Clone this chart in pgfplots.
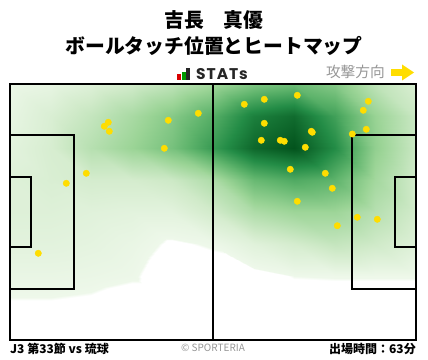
\documentclass[border=0pt]{standalone}
\usepackage{pgfplots}
\pgfplotsset{compat=1.18}
\usepackage{fontspec}
\setmainfont{Noto Sans CJK JP}
\newfontfamily\logofont[LetterSpace=6]{Poppins}
\definecolor{dot}{RGB}{255,221,0}
\definecolor{txtgray}{RGB}{150,150,150}
\begin{document}
\begin{tikzpicture}
\begin{axis}[
  x=1pt, y=1pt, hide axis, clip=false,
  xmin=0, xmax=406, ymin=0, ymax=256,
  point meta min=0, point meta max=1,
  colormap={pitchgreen}{
    rgb255(0cm)=(255,255,255);
    rgb255(0.27cm)=(255,255,255);
    rgb255(0.3cm)=(238,248,234);
    rgb255(1.5cm)=(210,235,203);
    rgb255(3.5cm)=(155,212,150);
    rgb255(5.5cm)=(95,180,108);
    rgb255(7.5cm)=(35,140,70);
    rgb255(10cm)=(0,78,25)
  },
]
% heat map (density, 0 = none, 1 = highest)
\addplot[surf, shader=interp, mesh/cols=11, point meta=\thisrow{c}] table {
x y c
0 0 0
40.6 0 0
81.2 0 0
121.8 0 0
162.4 0 0
203 0 0
243.6 0 0
284.2 0 0
324.8 0 0
365.4 0 0
406 0 0
0 32 0.02
40.6 32 0.02
81.2 32 0.015
121.8 32 0
162.4 32 0
203 32 0
243.6 32 0
284.2 32 0
324.8 32 0
365.4 32 0
406 32 0
0 64 0.05
40.6 64 0.05
81.2 64 0.045
121.8 64 0.035
162.4 64 0
203 64 0
243.6 64 0.01
284.2 64 0.03
324.8 64 0.032
365.4 64 0.032
406 64 0.032
0 96 0.08
40.6 96 0.08
81.2 96 0.07
121.8 96 0.05
162.4 96 0.02
203 96 0.035
243.6 96 0.09
284.2 96 0.14
324.8 96 0.2
365.4 96 0.16
406 96 0.1
0 128 0.1
40.6 128 0.1
81.2 128 0.09
121.8 128 0.08
162.4 128 0.08
203 128 0.15
243.6 128 0.28
284.2 128 0.34
324.8 128 0.34
365.4 128 0.25
406 128 0.15
0 160 0.1
40.6 160 0.12
81.2 160 0.14
121.8 160 0.14
162.4 160 0.17
203 160 0.28
243.6 160 0.52
284.2 160 0.6
324.8 160 0.55
365.4 160 0.32
406 160 0.15
0 192 0.08
40.6 192 0.13
81.2 192 0.25
121.8 192 0.35
162.4 192 0.47
203 192 0.68
243.6 192 0.9
284.2 192 0.98
324.8 192 0.75
365.4 192 0.38
406 192 0.18
0 224 0.06
40.6 224 0.12
81.2 224 0.2
121.8 224 0.3
162.4 224 0.42
203 224 0.58
243.6 224 0.8
284.2 224 0.88
324.8 224 0.65
365.4 224 0.36
406 224 0.18
0 256 0.04
40.6 256 0.06
81.2 256 0.1
121.8 256 0.15
162.4 256 0.22
203 256 0.32
243.6 256 0.45
284.2 256 0.5
324.8 256 0.42
365.4 256 0.22
406 256 0.12
};
% ball touches
\addplot[only marks, mark=*, mark size=3.2pt, mark options={fill=dot, draw=dot}] table {
94.3 213.7
98.3 217.7
99.3 208.7
158.3 219.7
188.3 226.7
154.3 191.7
76.3 166.7
56.3 156.7
28.3 86.7
234.3 235.7
254.3 240.7
287.3 244.7
358.3 238.7
353.3 229.7
254.3 216.7
301.3 208.7
302.3 207.7
342.3 206
356.3 210.7
251.3 199.7
270.3 199.7
274.3 198.7
295.3 192.7
280.3 170.7
315.3 166.7
322.3 151.7
287.3 138.7
347.3 122.7
367.3 120.7
327.3 114.3
};
% pitch lines
\begin{scope}[line width=2pt, black]
\draw (axis cs:0,0) rectangle (axis cs:406,256);
\draw (axis cs:203,0) -- (axis cs:203,256);
\draw (axis cs:0,51) -- (axis cs:64,51) -- (axis cs:64,205) -- (axis cs:0,205);
\draw (axis cs:0,93) -- (axis cs:21,93) -- (axis cs:21,163) -- (axis cs:0,163);
\draw (axis cs:406,51) -- (axis cs:342,51) -- (axis cs:342,205) -- (axis cs:406,205);
\draw (axis cs:406,93) -- (axis cs:385,93) -- (axis cs:385,163) -- (axis cs:406,163);
\end{scope}
% titles
\node[font=\fontsize{19.8}{20}\selectfont\bfseries] at (axis cs:204,320) {吉長　真優};
\node[font=\fontsize{19.8}{20}\selectfont\bfseries] at (axis cs:204,294) {ボールタッチ位置とヒートマップ};
% STATs logo
\fill[red!85!black] (axis cs:167,260) rectangle (axis cs:171,266);
\fill[green!60!black] (axis cs:171.5,260) rectangle (axis cs:175.5,268);
\fill[black!85] (axis cs:176,260) rectangle (axis cs:180,272);
\node[font=\logofont\fontsize{15.5}{16}\selectfont\bfseries, anchor=base west, inner sep=0pt, text=black!85] at (axis cs:186,260) {STATs};
% attack direction
\node[font=\fontsize{14.7}{15}\selectfont, anchor=east, inner sep=0pt, text=txtgray] at (axis cs:375,268) {攻撃方向};
\fill[dot] (axis cs:381,264) rectangle (axis cs:393,271);
\fill[dot] (axis cs:392,259.5) -- (axis cs:404,267.5) -- (axis cs:392,275.5) -- cycle;
% footer
\node[font=\fontsize{12}{13}\selectfont\bfseries, anchor=west, inner sep=0pt] at (axis cs:0,-9) {J3 第33節 vs 琉球};
\node[font=\fontsize{10}{11}\selectfont, inner sep=0pt, text=txtgray] at (axis cs:203,-8) {© SPORTERIA};
\node[font=\fontsize{12}{13}\selectfont\bfseries, anchor=east, inner sep=0pt] at (axis cs:406,-9) {出場時間：63分};
% canvas
\path (axis cs:-10,-19) rectangle (axis cs:418,340);
\end{axis}
\end{tikzpicture}
\end{document}
